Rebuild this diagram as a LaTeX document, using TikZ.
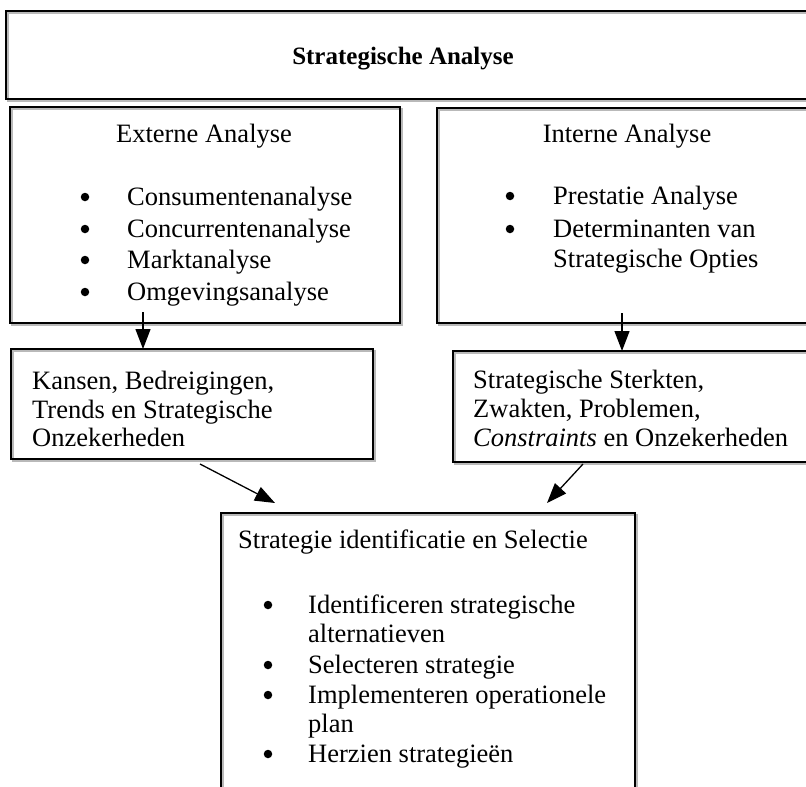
\documentclass[tikz,border=0pt]{standalone}
\usepackage{fontspec}
\setmainfont{Liberation Serif}
\usetikzlibrary{arrows.meta}
\tikzset{
  box/.style={draw=black, line width=1.3pt, anchor=north west, inner sep=0pt, outer sep=0pt,
    preaction={draw=gray!55, line width=1.6pt, transform canvas={shift={(2pt,-2pt)}}}},
  txt/.style={inner sep=0pt, anchor=base west, font=\fontsize{26.5pt}{31pt}\selectfont},
  ctxt/.style={inner sep=0pt, anchor=base, font=\fontsize{26.5pt}{31pt}\selectfont},
  btxt/.style={inner sep=0pt, anchor=base, font=\fontsize{25pt}{30pt}\selectfont\bfseries},
  dot/.style={circle, fill=black, inner sep=0pt, minimum size=8.5pt},
  arr/.style={line width=1.3pt, -{Triangle[length=20pt,width=15pt]}}
}
\begin{document}
\begin{tikzpicture}[x=1pt,y=-1pt]
\clip (0,0) rectangle (806,787);
% boxes
\node[box, minimum width=830pt, minimum height=88pt] (top) at (6,11) {};
\node[box, minimum width=390pt, minimum height=216pt] (ext) at (10,107) {};
\node[box, minimum width=400pt, minimum height=215pt] (int) at (437,108) {};
\node[box, minimum width=362pt, minimum height=110pt] (kan) at (11,349) {};
\node[box, minimum width=400pt, minimum height=111pt] (ste) at (453,351) {};
\node[box, minimum width=414pt, minimum height=300pt] (sel) at (221,513) {};
% title
\node[btxt] (t0) at (403,64) {Strategische Analyse};
% externe
\node[ctxt] (t1) at (204,142) {Externe Analyse};
\node[dot] (b11) at (85,197) {};
\node[dot] (b12) at (85,229) {};
\node[dot] (b13) at (85,260) {};
\node[dot] (b14) at (85,292) {};
\node[txt] (e1) at (127,205) {Consumentenanalyse};
\node[txt] (e2) at (127,237) {Concurrentenanalyse};
\node[txt] (e3) at (127,268) {Marktanalyse};
\node[txt] (e4) at (127,300) {Omgevingsanalyse};
% interne
\node[ctxt] (t2) at (627,142) {Interne Analyse};
\node[dot] (b21) at (510,196) {};
\node[dot] (b22) at (510,229) {};
\node[txt] (i1) at (553,204) {Prestatie Analyse};
\node[txt] (i2) at (553,237) {Determinanten van};
\node[txt] (i3) at (553,267) {Strategische Opties};
% kansen
\node[txt] (k1) at (32,389) {Kansen, Bedreigingen,};
\node[txt] (k2) at (32,418) {Trends en Strategische};
\node[txt] (k3) at (32,446) {Onzekerheden};
% sterkten
\node[txt] (s1) at (473,388) {Strategische Sterkten,};
\node[txt] (s2) at (473,417) {Zwakten, Problemen,};
\node[txt] (s3) at (473,446) {\textit{Constraints} en Onzekerheden};
% selectie
\node[txt] (t3) at (238,548) {Strategie identificatie en Selectie};
\node[dot] (b31) at (268,605) {};
\node[dot] (b32) at (268,665) {};
\node[dot] (b33) at (268,695) {};
\node[dot] (b34) at (268,754) {};
\node[txt] (l1) at (308,613) {Identificeren strategische};
\node[txt] (l2) at (308,642) {alternatieven};
\node[txt] (l3) at (308,673) {Selecteren strategie};
\node[txt] (l4) at (308,703) {Implementeren operationele};
\node[txt] (l5) at (308,732) {plan};
\node[txt] (l6) at (308,762) {Herzien strategieën};
% arrows
\coordinate (a1) at (143,312);
\coordinate (a2) at (622,313);
\coordinate (a3) at (200,464);
\coordinate (a3e) at (275,503);
\coordinate (a4) at (583,464);
\coordinate (a4e) at (547,503);
\draw[arr] (a1) -- (a1 |- kan.north);
\draw[arr] (a2) -- (a2 |- ste.north);
\draw[arr] (a3) -- (a3e);
\draw[arr] (a4) -- (a4e);
\end{tikzpicture}
\end{document}
